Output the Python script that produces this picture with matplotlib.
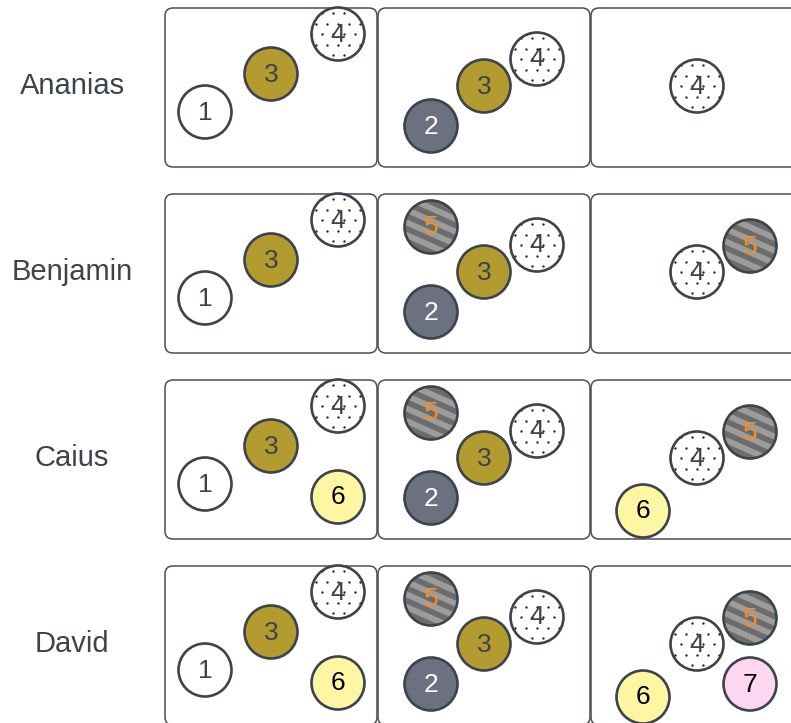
import matplotlib
matplotlib.use("Agg")
import matplotlib.pyplot as plt
import numpy as np
from matplotlib.patches import Circle, FancyBboxPatch, Polygon

plt.rcParams["font.family"] = ["Liberation Sans", "DejaVu Sans"]

# rows of the chart and which numbered nodes appear in each of the 3 panels
names = ["Ananias", "Benjamin", "Caius", "David"]
panel_nodes = [
    [[1, 3, 4], [2, 3, 4], [4]],
    [[1, 3, 4], [2, 3, 4, 5], [4, 5]],
    [[1, 3, 4, 6], [2, 3, 4, 5], [4, 5, 6]],
    [[1, 3, 4, 6], [2, 3, 4, 5], [4, 5, 6, 7]],
]

# node layout inside each panel column (x, y in panel pixels, y down)
col_layout = [
    {1: (40, 104), 3: (106, 66), 4: (173, 26), 6: (173, 117)},
    {2: (53, 118), 3: (106, 78), 4: (159, 51), 5: (53, 33)},
    {4: (106, 78), 5: (159, 52), 6: (52, 131), 7: (159, 118)},
]

node_fill = {1: "white", 2: "#6b7180", 3: "#b39b2f", 4: "white",
             5: "#9c9c9c", 6: "#fff6a3", 7: "#fdd6f1"}
node_text = {1: "#3d434d", 2: "white", 3: "#3d434d", 4: "#3d434d",
             5: "#f58d2a", 6: "black", 7: "black"}

W, H = 791, 723
edge = "#3d434d"
panel_x0, panel_y0 = 165, 8
panel_w, panel_h = 212, 159
col_step, row_step = 213, 186
radius = 26.5

fig = plt.figure(figsize=(W / 100, H / 100), dpi=100)
ax = fig.add_axes([0, 0, 1, 1])
ax.set_xlim(0, W)
ax.set_ylim(H, 0)
ax.axis("off")


def draw_node(cx, cy, n):
    circ = Circle((cx, cy), radius, facecolor=node_fill[n], edgecolor="none", zorder=3)
    ax.add_patch(circ)
    if n == 4:
        # staggered dot pattern
        for j, yy in enumerate(np.arange(-31.5, 34, 10.5)):
            off = 0 if j % 2 == 0 else 5.5
            for xx in np.arange(-33 + off, 34, 11):
                d = ax.plot(cx + xx, cy + yy, "o", ms=1.7, color="#222222",
                            mec="none", zorder=4)[0]
                d.set_clip_path(circ)
    if n == 5:
        # diagonal stripes
        ang = np.deg2rad(24)
        u = np.array([np.cos(ang), np.sin(ang)])
        v = np.array([-np.sin(ang), np.cos(ang)])
        for k in np.arange(-46, 47, 11.5):
            c = np.array([cx, cy]) + v * k
            pts = [c - u * 45 - v * 2.8, c + u * 45 - v * 2.8,
                   c + u * 45 + v * 2.8, c - u * 45 + v * 2.8]
            p = Polygon(pts, facecolor="#6c6c6c", edgecolor="none", zorder=4)
            ax.add_patch(p)
            p.set_clip_path(circ)
    ax.add_patch(Circle((cx, cy), radius, facecolor="none", edgecolor=edge,
                        linewidth=1.9, zorder=5))
    ax.text(cx, cy + 0.5, str(n), ha="center", va="center", fontsize=19,
            color=node_text[n], zorder=6)


for r, name in enumerate(names):
    top = panel_y0 + r * row_step
    ax.text(72, top + panel_h / 2 - 1, name, ha="center", va="center",
            fontsize=21, color="#3d434d")
    for c in range(3):
        left = panel_x0 + c * col_step
        ax.add_patch(FancyBboxPatch((left, top), panel_w, panel_h,
                                    boxstyle="round,pad=0,rounding_size=8",
                                    facecolor="white", edgecolor="#4a4f57",
                                    linewidth=1.1, zorder=1))
        for n in panel_nodes[r][c]:
            px, py = col_layout[c][n]
            draw_node(left + px, top + py, n)

fig.savefig("out.png", dpi=100)
